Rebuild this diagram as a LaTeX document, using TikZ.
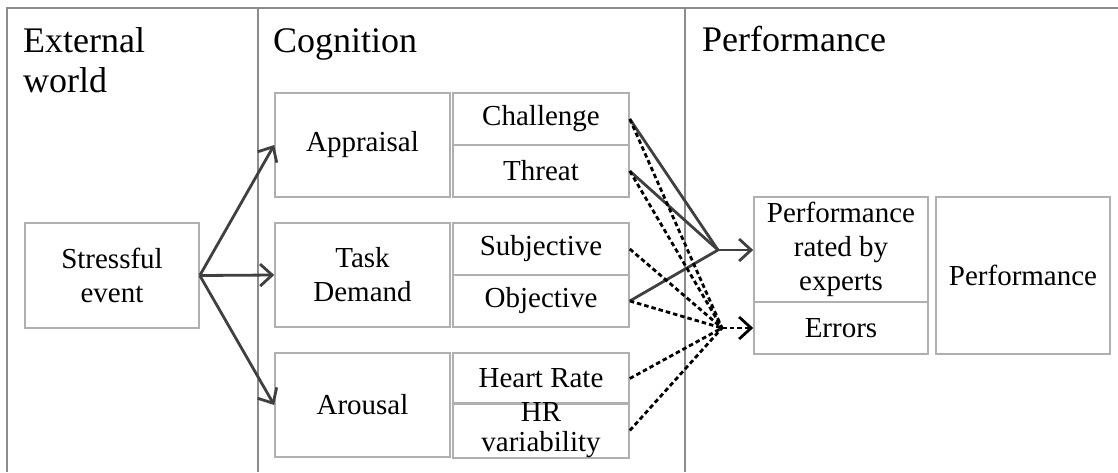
\documentclass[tikz,border=0pt]{standalone}
\usepackage{fontspec}
\setmainfont{Liberation Serif}
\usetikzlibrary{arrows.meta}
\definecolor{framegray}{HTML}{8C8C8C}
\definecolor{boxgray}{HTML}{B0B0B0}
\definecolor{arrowgray}{HTML}{404040}
\tikzset{
  frameline/.style={draw=framegray, line width=1.3pt},
  cell/.style={draw=boxgray, line width=1.6pt, rectangle, inner sep=0pt, align=center,
    font=\fontsize{29}{34}\selectfont},
  heading/.style={inner sep=0pt, align=left, font=\fontsize{36}{40}\selectfont, anchor=base west},
  solidarrow/.style={draw=arrowgray, line width=2.8pt, -{Straight Barb[length=12pt,width=22pt]}},
  solidline/.style={draw=arrowgray, line width=2.8pt},
  dashline/.style={draw=black, line width=2.8pt, dash pattern=on 4.5pt off 3pt},
  dasharrow/.style={dashline, -{Straight Barb[length=12pt,width=22pt]}},
}
\begin{document}
\begin{tikzpicture}[x=1pt,y=-1pt]
\useasboundingbox (0,0) rectangle (1118,472);
% frame
\draw[frameline] (1118,8) -- (7,8) -- (7,472);
\draw[frameline] (258,8) -- (258,472);
\draw[frameline] (685,8) -- (685,472);
% headings
\node[heading] (hext) at (23,92) {External\\world};
\node[heading] (hcog) at (273,52) {Cognition};
\node[heading] (hperf) at (702,51) {Performance};
% boxes
\node[cell, minimum width=174pt, minimum height=105pt] (stress) at (112,275.5) {Stressful\\event};
\node[cell, minimum width=175pt, minimum height=104pt] (appr) at (362.5,145) {Appraisal};
\node[cell, minimum width=176pt, minimum height=52pt] (chal) at (541,119) {Challenge};
\node[cell, minimum width=176pt, minimum height=52pt] (thr) at (541,171) {Threat};
\node[cell, minimum width=175pt, minimum height=104pt] (task) at (362.5,275) {Task\\Demand};
\node[cell, minimum width=176pt, minimum height=52pt] (subj) at (541,249) {Subjective};
\node[cell, minimum width=176pt, minimum height=52pt] (obj) at (541,301) {Objective};
\node[cell, minimum width=175pt, minimum height=104pt] (arou) at (362.5,405) {Arousal};
\node[cell, minimum width=176pt, minimum height=51pt] (hr) at (541,378.5) {Heart Rate};
\node[cell, minimum width=176pt, minimum height=53pt, font=\fontsize{29}{30}\selectfont] (hrv) at (541,430.5) {HR\\variability};
\node[cell, minimum width=174pt, minimum height=105pt] (rated) at (841,249.5) {Performance\\rated by\\experts};
\node[cell, minimum width=174pt, minimum height=52pt] (err) at (841,328) {Errors};
\node[cell, minimum width=174pt, minimum height=157pt] (perf) at (1023,275.5) {Performance};
% junctions
\coordinate (jS) at (718,250);
\coordinate (jD) at (722,328);
% arrows from stressful event
\draw[solidarrow] (stress.east) -- (appr.west);
\draw[solidarrow] (stress.east) -- (task.west);
\draw[solidarrow] (stress.east) -- (arou.west);
% solid paths
\draw[solidline] (chal.east) -- (jS);
\draw[solidline] (thr.east) -- (jS);
\draw[solidline] (obj.east) -- (jS);
\draw[solidarrow] (jS) -- (rated.west |- jS);
% dashed paths
\draw[dashline] (chal.east) -- (jD);
\draw[dashline] (thr.east) -- (jD);
\draw[dashline] (subj.east) -- (jD);
\draw[dashline] (obj.east) -- (jD);
\draw[dashline] (hr.east) -- (jD);
\draw[dashline] (hrv.east) -- (jD);
\draw[dasharrow] (jD) -- (err.west);
\end{tikzpicture}
\end{document}
